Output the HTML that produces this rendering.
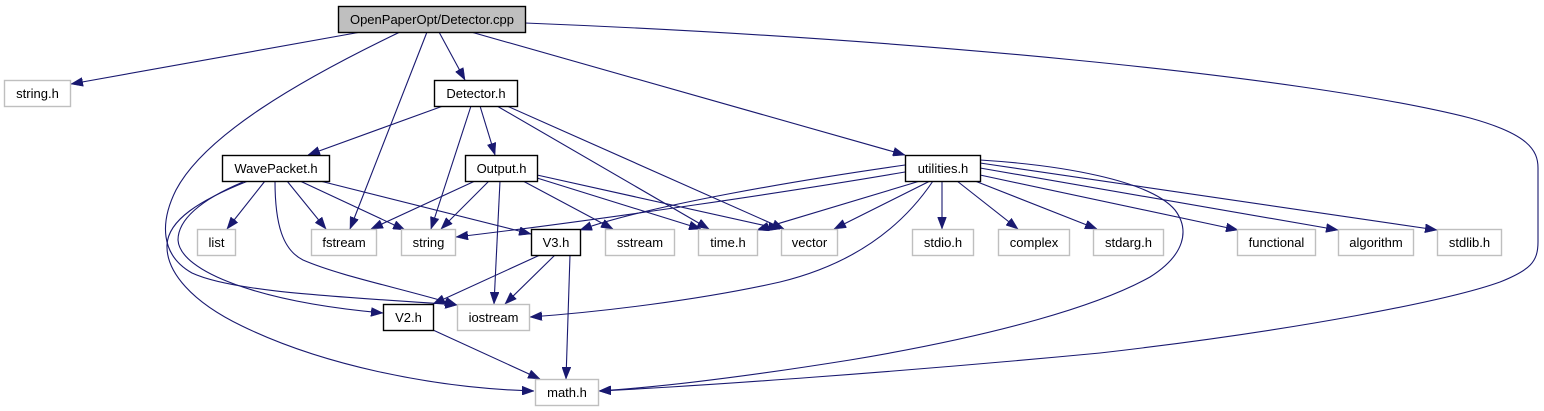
<!DOCTYPE html>
<html><head><meta charset="utf-8"><style>
html,body{margin:0;padding:0;background:#fff;}
svg{display:block;}
text{font-family:"Liberation Sans",Arial,sans-serif;font-size:13px;fill:#000;text-anchor:middle;}
.e{fill:none;stroke:#191970;stroke-width:1.1;marker-end:url(#a);}
.b{fill:#fff;stroke:#000;stroke-width:1.4;}
.g{fill:#fff;stroke:#bfbfbf;stroke-width:1.4;}
</style></head><body>
<svg width="1544" height="411" viewBox="0 0 1544 411" xmlns="http://www.w3.org/2000/svg">
<defs>
<marker id="a" markerUnits="userSpaceOnUse" viewBox="0 0 12 9" refX="12" refY="4.5" markerWidth="12" markerHeight="9" orient="auto">
<path d="M0,0 L12,4.5 L0,9 z" fill="#191970" stroke="#191970" stroke-width="0.5"/>
</marker>
</defs>

<!-- edges from cpp -->
<path class="e" d="M361,32 L71,84"/>
<path class="e" d="M439,32 L465,80"/>
<path class="e" d="M427,32 L350,229"/>
<path class="e" d="M471,32 L905,155"/>
<path class="e" d="M400,32 C300,80 205,135 176,190 C160,222 160,255 192,273 C235,293 350,297 457,305"/>
<path class="e" d="M525,23 C900,38 1300,75 1470,118 C1528,134 1538,150 1538,168 L1538,242 C1538,262 1530,270 1500,282 C1450,300 1300,330 1100,353 C900,372 700,386 599,391"/>

<!-- edges from Detector.h -->
<path class="e" d="M443,106 L308,155"/>
<path class="e" d="M480,106 L495,155"/>
<path class="e" d="M471,106 L431,229"/>
<path class="e" d="M497,106 L709,229"/>
<path class="e" d="M507,106 L784,229"/>

<!-- edges from Output.h -->
<path class="e" d="M475,181 L371,229"/>
<path class="e" d="M489,181 L441,229"/>
<path class="e" d="M500,181 L494,304"/>
<path class="e" d="M523,181 L613,229"/>
<path class="e" d="M537,178 L701,229"/>
<path class="e" d="M537,175 L780,229"/>

<!-- edges from WavePacket.h -->
<path class="e" d="M265,181 L227,229"/>
<path class="e" d="M287,181 L326,229"/>
<path class="e" d="M300,181 L405,230"/>
<path class="e" d="M320,181 L531,234"/>
<path class="e" d="M275,181 C275,225 283,250 303,260 C340,276 400,288 457,305"/>
<path class="e" d="M243,182 C200,200 178,220 178,240 C180,272 260,302 383,313"/>
<path class="e" d="M248,181 C200,200 168,220 167,245 C166,272 192,302 242,326 C320,364 430,388 534,391"/>

<!-- edges from utilities.h -->
<path class="e" d="M905,165 C800,180 650,205 580,230"/>
<path class="e" d="M905,172 C800,190 600,220 456,237"/>
<path class="e" d="M920,181 L757,230"/>
<path class="e" d="M930,181 L834,229"/>
<path class="e" d="M942,181 L942,229"/>
<path class="e" d="M957,181 L1018,229"/>
<path class="e" d="M975,181 L1097,229"/>
<path class="e" d="M980,175 L1238,230"/>
<path class="e" d="M980,168 L1338,230"/>
<path class="e" d="M980,163 L1437,230"/>
<path class="e" d="M933,181 C900,230 850,265 780,282 C700,300 600,312 530,317"/>
<path class="e" d="M980,160 C1060,165 1150,180 1175,210 C1190,230 1185,255 1150,277 C1100,305 1000,335 850,360 C750,376 660,387 599,391"/>

<!-- edges from V3.h / V2.h -->
<path class="e" d="M540,255 L433,304"/>
<path class="e" d="M555,255 L505,304"/>
<path class="e" d="M570,255 L566,379"/>
<path class="e" d="M433,330 L540,379"/>

<!-- nodes -->
<rect x="338.5" y="6.5" width="187" height="26" fill="#bfbfbf" stroke="#000" stroke-width="1.4"/>
<text x="432" y="24">OpenPaperOpt/Detector.cpp</text>

<rect class="g" x="4.5" y="80.5" width="66" height="26"/><text x="37.5" y="98">string.h</text>
<rect class="b" x="434.5" y="80.5" width="83" height="26"/><text x="476" y="98">Detector.h</text>

<rect class="b" x="222.5" y="155.5" width="107" height="26"/><text x="276" y="173">WavePacket.h</text>
<rect class="b" x="465.5" y="155.5" width="72" height="26"/><text x="501.5" y="173">Output.h</text>
<rect class="b" x="905.5" y="155.5" width="75" height="26"/><text x="943" y="173">utilities.h</text>

<rect class="g" x="197.5" y="229.5" width="38" height="26"/><text x="216.5" y="247">list</text>
<rect class="g" x="311.5" y="229.5" width="65" height="26"/><text x="344" y="247">fstream</text>
<rect class="g" x="401.5" y="229.5" width="54" height="26"/><text x="428.5" y="247">string</text>
<rect class="b" x="531.5" y="229.5" width="49" height="26"/><text x="556" y="247">V3.h</text>
<rect class="g" x="605.5" y="229.5" width="69" height="26"/><text x="640" y="247">sstream</text>
<rect class="g" x="698.5" y="229.5" width="59" height="26"/><text x="728" y="247">time.h</text>
<rect class="g" x="781.5" y="229.5" width="56" height="26"/><text x="809.5" y="247">vector</text>
<rect class="g" x="912.5" y="229.5" width="61" height="26"/><text x="943" y="247">stdio.h</text>
<rect class="g" x="998.5" y="229.5" width="71" height="26"/><text x="1034" y="247">complex</text>
<rect class="g" x="1093.5" y="229.5" width="70" height="26"/><text x="1128.5" y="247">stdarg.h</text>
<rect class="g" x="1237.5" y="229.5" width="78" height="26"/><text x="1276.5" y="247">functional</text>
<rect class="g" x="1338.5" y="229.5" width="75" height="26"/><text x="1376" y="247">algorithm</text>
<rect class="g" x="1437.5" y="229.5" width="64" height="26"/><text x="1469.5" y="247">stdlib.h</text>

<rect class="b" x="383.5" y="304.5" width="50" height="26"/><text x="408.5" y="322">V2.h</text>
<rect class="g" x="457.5" y="304.5" width="72" height="26"/><text x="493.5" y="322">iostream</text>

<rect class="g" x="535.5" y="379.5" width="63" height="26"/><text x="567" y="397">math.h</text>
</svg>
</body></html>
